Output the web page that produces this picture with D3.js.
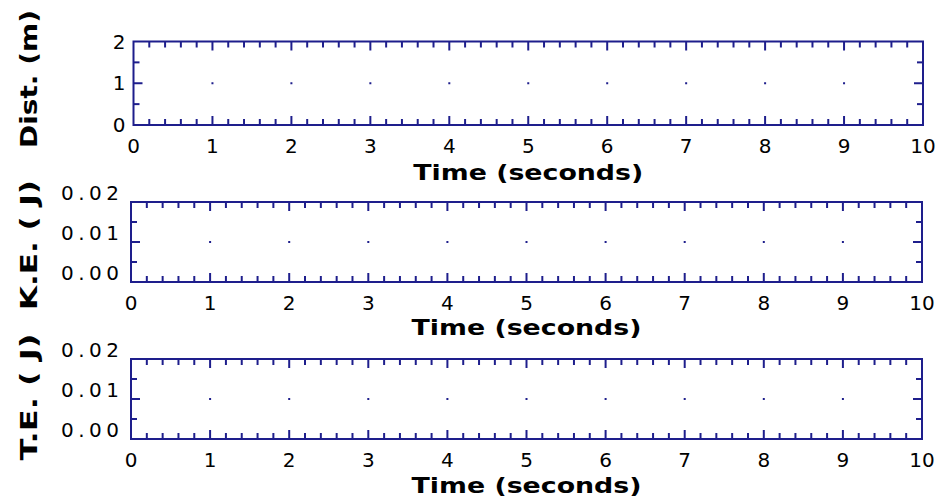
<!DOCTYPE html>
<meta charset="utf-8">
<script src="https://d3js.org/d3.v7.min.js"></script>
<style>
  body { margin: 0; background: #fff; }
  text { font-family: "DejaVu Sans", sans-serif; fill: #000; }
</style>
<div id="chart"></div>
<script>
    // chart content
    const timeDomain = [0, 10];
    const timeTicks = [0, 1, 2, 3, 4, 5, 6, 7, 8, 9, 10];
    const panelLabels = ["Dist. (m)", "K.E. ( J)", "T.E. ( J)"];
    const yDomains = [[0, 2], [0, 0.02], [0, 0.02]];
    const yTickValues = [[0, 1, 2], [0, 0.01, 0.02], [0, 0.01, 0.02]];
    const yTickLabels = [["0", "1", "2"], ["0.00", "0.01", "0.02"], ["0.00", "0.01", "0.02"]];
    const xTitle = "Time (seconds)";

    // layout of the three panels
    const boxes = [
        {left: 133.5, right: 923, top: 41.5, bottom: 125, tickY: 153, titleY: 180, labLen: 138, labCy: 79, yLabDy: 7, yLabGap: 8, ls: 0},
        {left: 131, right: 922, top: 202, bottom: 282, tickY: 310, titleY: 335, labLen: 130, labCy: 245, yLabDy: -2, yLabGap: 12, ls: 4.5},
        {left: 131, right: 922, top: 359, bottom: 439, tickY: 467, titleY: 493, labLen: 127, labCy: 397, yLabDy: -2, yLabGap: 12, ls: 4.5}
    ];
    const navy = "#1e1e8c";
    const minorLen = 6, majorLen = 9;

    var svg = d3.select("#chart")
        .append("svg")
            .attr("width", 938)
            .attr("height", 504);

    boxes.forEach(function(b, i) {
        var x = d3.scaleLinear().domain(timeDomain).range([b.left, b.right]);
        var y = d3.scaleLinear().domain(yDomains[i]).range([b.bottom, b.top]);
        var g = svg.append("g");

        // minor / major ticks on all four sides, pointing inward
        var xt = x.ticks(50);
        xt.forEach(function(t) {
            var len = timeTicks.indexOf(Math.round(t * 1000) / 1000) >= 0 ? majorLen : minorLen;
            if (t === timeDomain[0] || t === timeDomain[1]) return;
            g.append("line").attr("x1", x(t)).attr("x2", x(t))
                .attr("y1", y.range()[1]).attr("y2", y.range()[1] + len);
            g.append("line").attr("x1", x(t)).attr("x2", x(t))
                .attr("y1", y.range()[0]).attr("y2", y.range()[0] - len);
        });
        var yt = y.ticks(4);
        yt.forEach(function(t, j) {
            if (j === 0 || j === yt.length - 1) return;
            var len = (j % 2 === 0) ? majorLen : minorLen;
            g.append("line").attr("x1", b.left).attr("x2", b.left + len)
                .attr("y1", y(t)).attr("y2", y(t));
            g.append("line").attr("x1", b.right).attr("x2", b.right - len)
                .attr("y1", y(t)).attr("y2", y(t));
        });
        g.selectAll("line").attr("stroke", navy).attr("stroke-width", 2);

        // frame
        g.append("rect")
            .attr("x", b.left).attr("y", b.top)
            .attr("width", b.right - b.left).attr("height", b.bottom - b.top)
            .attr("fill", "none").attr("stroke", navy).attr("stroke-width", 2);

        // grid dots at interior major ticks
        var midY = yTickValues[i][1];
        g.selectAll(".dot")
            .data(timeTicks.slice(1, -1))
            .enter().append("rect")
                .attr("x", d => x(d) - 1)
                .attr("y", y(midY) - 1)
                .attr("width", 2).attr("height", 2)
                .attr("fill", navy);

        // x tick labels
        g.selectAll(".xlab")
            .data(timeTicks)
            .enter().append("text")
                .attr("x", d => x(d))
                .attr("y", b.tickY)
                .attr("text-anchor", "middle")
                .attr("font-size", 20)
                .text(d => d);

        // y tick labels
        g.selectAll(".ylab")
            .data(yTickValues[i])
            .enter().append("text")
                .attr("x", b.left - b.yLabGap + b.ls)
                .attr("y", d => y(d) + b.yLabDy)
                .attr("text-anchor", "end")
                .attr("font-size", 20)
                .attr("letter-spacing", b.ls)
                .text((d, k) => yTickLabels[i][k]);

        // axis titles
        g.append("text")
            .attr("x", (b.left + b.right) / 2)
            .attr("y", b.titleY)
            .attr("text-anchor", "middle")
            .attr("font-size", 21)
            .attr("font-weight", "bold")
            .attr("textLength", 230)
            .attr("lengthAdjust", "spacingAndGlyphs")
            .text(xTitle);

        g.append("text")
            .attr("transform", "translate(37," + b.labCy + ") rotate(-90)")
            .attr("text-anchor", "middle")
            .attr("font-size", 23)
            .attr("font-weight", "bold")
            .attr("textLength", b.labLen)
            .attr("lengthAdjust", "spacingAndGlyphs")
            .text(panelLabels[i]);
    });
</script>
